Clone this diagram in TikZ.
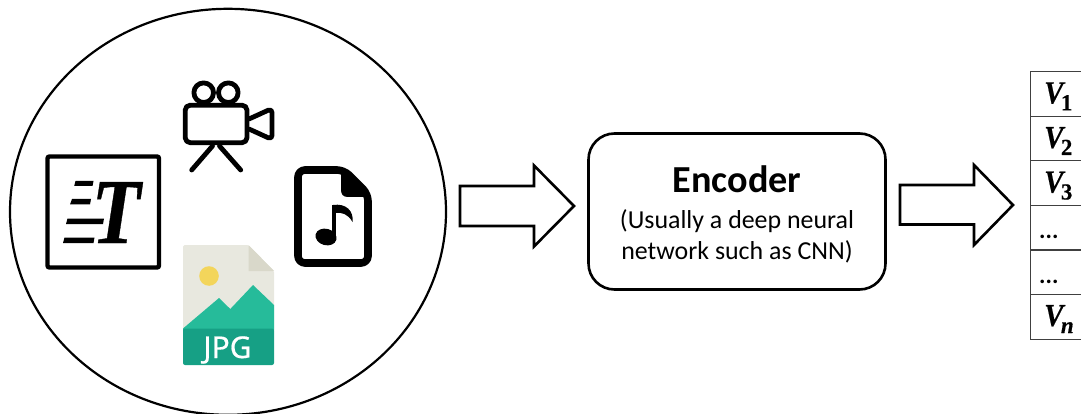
\documentclass[tikz,border=0pt]{standalone}
\usepackage{fontspec}
\setmainfont{Carlito}
\newfontfamily\vfont[FakeBold=0.4]{Liberation Serif}
\newfontfamily\jfont[FakeBold=0.6]{Noto Sans}
\definecolor{jpgpage}{HTML}{E8E8DF}
\definecolor{jpgfold}{HTML}{D9D8CA}
\definecolor{jpgsun}{HTML}{F3D55B}
\definecolor{jpgmount}{HTML}{26BB9A}
\definecolor{jpgband}{HTML}{16A085}
\definecolor{rowline}{HTML}{404040}
\newcommand{\vlab}[2]{\scalebox{.9}[1]{V}\kern-2.5pt\raisebox{-7pt}{\fontsize{23}{23}\selectfont #1#2}}
\tikzset{
  x=1pt,y=-1pt,
  hollowarrow/.style={draw=black,line width=2.6pt,fill=white,miter limit=10},
  iconline/.style={draw=black,line width=4.8pt,line join=round,line cap=round},
  rowbox/.style={draw=rowline,line width=1.3pt,minimum width=60pt,minimum height=44.6pt,anchor=north west,inner sep=0pt},
  vlabel/.style={font=\vfont\bfseries\itshape\fontsize{32}{32}\selectfont,inner sep=0pt,anchor=base west},
  dotlabel/.style={font=\bfseries\fontsize{24}{24}\selectfont,inner sep=0pt,anchor=base west},
  enctext/.style={font=\fontsize{25.9}{26}\selectfont,inner sep=0pt,anchor=base},
  tbar/.style={fill=black,draw=none}
}
\begin{document}
\begin{tikzpicture}
\useasboundingbox (0,0) rectangle (1081,414);
\begin{scope}
\clip (0,0) rectangle (1081,414);
% source circle
\draw[black,line width=2.2pt] (228,211.8) ellipse [x radius=218,y radius=203];

% text icon
\draw[black,line width=4.4pt,rounded corners=2pt] (47.5,156.5) rectangle (159,267.5);
\fill[tbar] (75.5,181) -- (93.5,181) -- (92.5,186) -- (74.2,186) -- cycle;
\fill[tbar] (72,199) -- (91,199) -- (90,204.5) -- (70,204.5) -- cycle;
\fill[tbar] (67.5,218.5) -- (104,218.5) -- (103,224) -- (66,224) -- cycle;
\fill[tbar] (64.5,237.5) -- (94.5,237.5) -- (93.5,243) -- (63,243) -- cycle;
\node[inner sep=0pt,anchor=base,font=\vfont\bfseries\itshape\fontsize{93}{93}\selectfont] (letterT) at (116,243) {\scalebox{.86}[1]{T}};

% camera icon
\draw[iconline,rounded corners=5pt] (185.2,105.2) rectangle (247,142.7);
\draw[iconline] (203.7,92.7) circle [radius=9.8];
\draw[iconline] (228.3,92.7) circle [radius=9.8];
\draw[iconline,rounded corners=4pt] (249,119) -- (272,108.5) -- (272,139.5) -- (249,129) ;
\draw[iconline] (212.5,146) -- (191.7,170);
\draw[iconline] (219.5,146) -- (240.7,170);

% music file icon
\draw[black,line width=7.6pt,line join=round,rounded corners=7pt] (320,170) -- (298,170) -- (298,263) -- (368,263) -- (368,194) -- (344,170) -- cycle;
\fill[black] (341,170) -- (341,190) .. controls (341,194) and (343,197) .. (348,197) -- (368,197) -- (368,194) -- (344,170) -- cycle;
\fill[black,rotate around={-15:(326,237)}] (326,237) ellipse [x radius=10.7,y radius=8.2];
\fill[black] (331.5,205) rectangle (336,238);
\fill[black] (333,205) .. controls (346,203) and (354,211) .. (352.5,222) .. controls (348,214) and (342,212) .. (335,213) -- cycle;

% jpg icon
\fill[jpgpage,rounded corners=1.5pt] (183,245) -- (248.5,245) -- (274,271) -- (274,330) -- (183,330) -- cycle;
\fill[jpgfold] (248.5,245) -- (274,271) -- (248.5,271) -- cycle;
\fill[jpgsun] (209,276) circle [radius=9.8];
\fill[jpgmount] (183,328.5) -- (219,298) -- (230.3,309) -- (253,285) -- (274,305) -- (274,330) -- (183,330) -- cycle;
\fill[jpgband,rounded corners=2pt] (183,328.5) -- (274,328.5) -- (274,365) -- (183,365) -- cycle;
\node[inner sep=0pt,text=white,font=\jfont\fontsize{30}{30}\selectfont,anchor=base] (jpglabel) at (227.5,358) {JPG};

% first arrow
\draw[hollowarrow] (460,186) -- (534,186) -- (534,165.5) -- (574,206) -- (534,246.5) -- (534,226) -- (460,226) -- cycle;

% encoder
\node[draw=black,line width=2.6pt,rounded corners=26pt,minimum width=297pt,minimum height=156pt,inner sep=0pt] (encoder) at (737,211.5) {};
\node[inner sep=0pt,anchor=base,font=\bfseries\fontsize{38.2}{38}\selectfont] (encodertitle) at (737,193) {Encoder};
\node[enctext] (encoderline1) at (737,228) {(Usually a deep neural};
\node[enctext] (encoderline2) at (737,259) {network such as CNN)};

% second arrow
\draw[hollowarrow] (900,185) -- (974,185) -- (974,165) -- (1013,205) -- (974,245) -- (974,224.5) -- (900,224.5) -- cycle;

% vector table
\node[rowbox] (row1) at (1029.5,71) {};
\node[rowbox] (row2) at (1029.5,115.6) {};
\node[rowbox] (row3) at (1029.5,160.2) {};
\node[rowbox] (row4) at (1029.5,204.8) {};
\node[rowbox] (row5) at (1029.5,249.4) {};
\node[rowbox] (row6) at (1029.5,294) {};
\node[vlabel] (v1) at (1044,103.3) {\vlab{\upshape}{1}};
\node[vlabel] (v2) at (1044,148) {\vlab{\upshape}{2}};
\node[vlabel] (v3) at (1044,192.5) {\vlab{\upshape}{3}};
\node[dotlabel] (dots1) at (1039,238.5) {...};
\node[dotlabel] (dots2) at (1039,283) {...};
\node[vlabel] (vn) at (1044,326) {\vlab{}{n}};
\end{scope}
\end{tikzpicture}
\end{document}
